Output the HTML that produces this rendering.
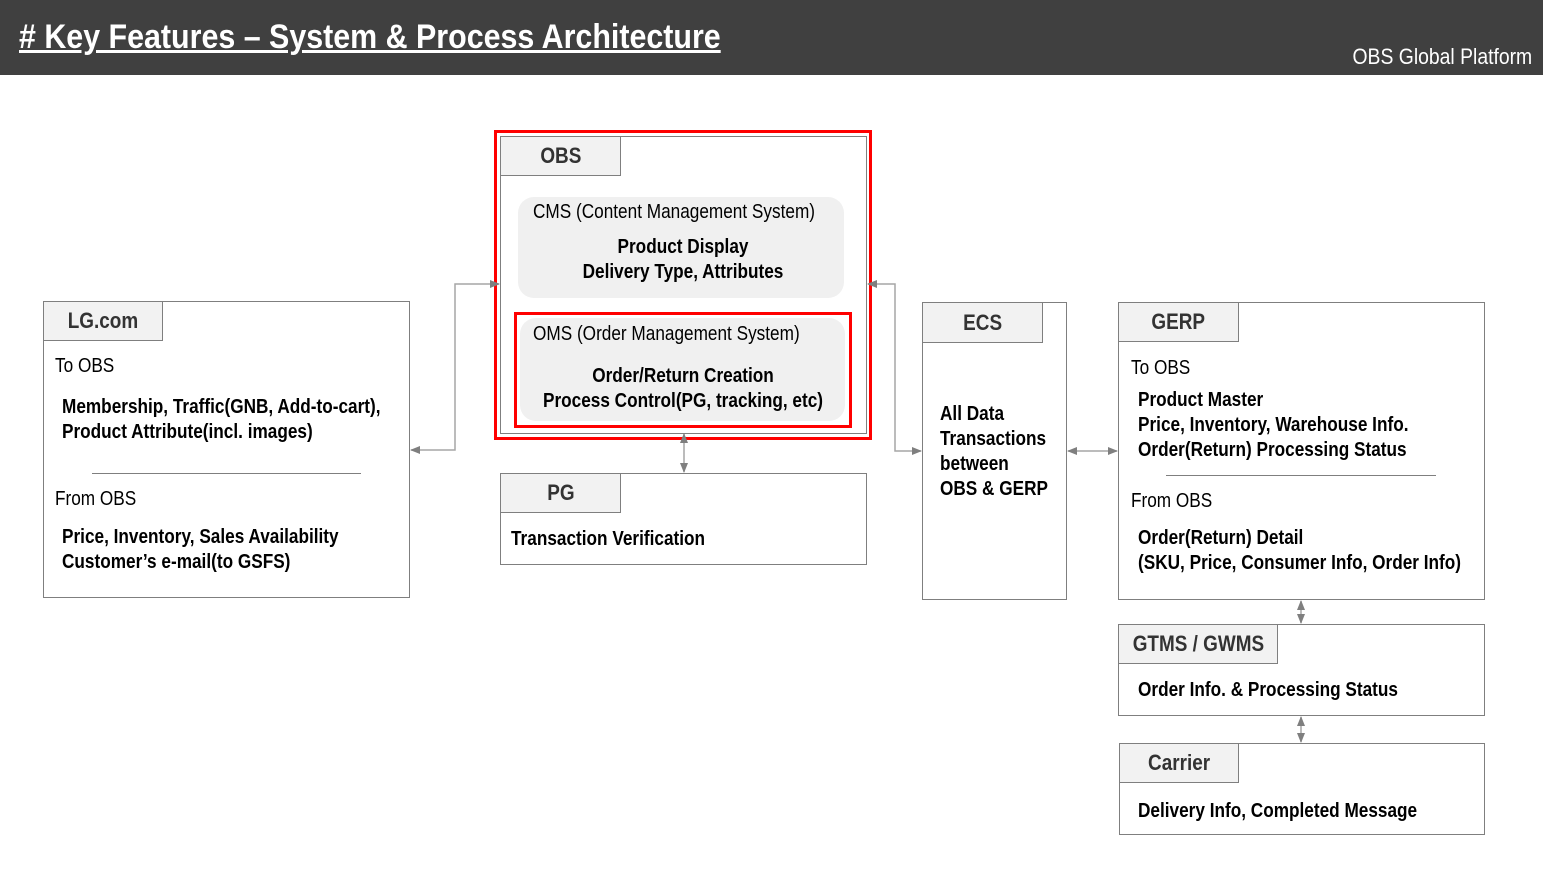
<!DOCTYPE html>
<html><head><meta charset="utf-8"><style>
*{margin:0;padding:0;box-sizing:border-box}
body{width:1543px;height:869px;background:#fff;position:relative;overflow:hidden;font-family:"Liberation Sans Narrow","Liberation Sans",sans-serif;color:#000}
.a{position:absolute}
.box{position:absolute;border:1px solid #7f7f7f;background:#fff}
.tab{position:absolute;border:1px solid #7f7f7f;background:#f2f2f2;font-weight:bold;font-size:22px;color:#333;text-align:center}
.tab span{display:inline-block;transform:scaleX(0.86)}
.t{position:absolute;font-size:20px;white-space:nowrap;line-height:25px;transform:scaleX(0.86);transform-origin:0 0}
.b{font-weight:bold}
.c{text-align:center;transform-origin:50% 0}
</style></head><body>
<div class="a" style="left:0;top:0;width:1543px;height:75px;background:#404040"></div>
<div class="a" style="left:19px;top:18px;color:#fff;font-weight:bold;font-size:34px;text-decoration:underline;white-space:nowrap;transform:scaleX(0.894);transform-origin:0 0">#&nbsp;Key Features – System &amp; Process Architecture</div>
<div class="a" style="right:11px;top:44px;color:#fff;font-size:22px;white-space:nowrap;transform:scaleX(0.88);transform-origin:100% 0">OBS Global Platform</div>

<!-- OBS -->
<div class="a" style="left:494px;top:130px;width:378px;height:310px;border:3px solid #f00"></div>
<div class="box" style="left:500px;top:136px;width:367px;height:298px"></div>
<div class="tab" style="left:500px;top:136px;width:121px;height:40px;line-height:38px"><span>OBS</span></div>
<div class="a" style="left:518px;top:197px;width:326px;height:101px;background:#f0f0f0;border-radius:16px"></div>
<div class="t" style="left:533px;top:200px">CMS (Content Management System)</div>
<div class="t b c" style="left:518px;width:330px;top:235px">Product Display<br>Delivery Type, Attributes</div>
<div class="a" style="left:514px;top:312px;width:338px;height:116px;border:3px solid #f00"></div>
<div class="a" style="left:520px;top:318px;width:325px;height:103px;background:#f0f0f0;border-radius:16px"></div>
<div class="t" style="left:533px;top:322px">OMS (Order Management System)</div>
<div class="t b c" style="left:518px;width:330px;top:364px">Order/Return Creation<br>Process Control(PG, tracking, etc)</div>

<!-- LG -->
<div class="box" style="left:43px;top:301px;width:367px;height:297px"></div>
<div class="tab" style="left:43px;top:301px;width:120px;height:40px;line-height:38px"><span>LG.com</span></div>
<div class="t" style="left:55px;top:354px">To OBS</div>
<div class="t b" style="left:62px;top:395px">Membership, Traffic(GNB, Add-to-cart),<br>Product Attribute(incl. images)</div>
<div class="a" style="left:92px;top:473px;width:269px;height:1px;background:#7f7f7f"></div>
<div class="t" style="left:55px;top:487px">From OBS</div>
<div class="t b" style="left:62px;top:525px">Price, Inventory, Sales Availability<br>Customer’s e-mail(to GSFS)</div>

<!-- PG -->
<div class="box" style="left:500px;top:473px;width:367px;height:92px"></div>
<div class="tab" style="left:500px;top:473px;width:121px;height:40px;line-height:38px"><span>PG</span></div>
<div class="t b" style="left:511px;top:527px">Transaction Verification</div>

<!-- ECS -->
<div class="box" style="left:922px;top:302px;width:145px;height:298px"></div>
<div class="tab" style="left:922px;top:302px;width:121px;height:41px;line-height:40px"><span>ECS</span></div>
<div class="t b" style="left:940px;top:402px">All Data<br>Transactions<br>between<br>OBS &amp; GERP</div>

<!-- GERP -->
<div class="box" style="left:1118px;top:302px;width:367px;height:298px"></div>
<div class="tab" style="left:1118px;top:302px;width:121px;height:40px;line-height:38px"><span>GERP</span></div>
<div class="t" style="left:1131px;top:356px">To OBS</div>
<div class="t b" style="left:1138px;top:388px">Product Master<br>Price, Inventory, Warehouse Info.<br>Order(Return) Processing Status</div>
<div class="a" style="left:1166px;top:475px;width:270px;height:1px;background:#7f7f7f"></div>
<div class="t" style="left:1131px;top:489px">From OBS</div>
<div class="t b" style="left:1138px;top:526px">Order(Return) Detail<br>(SKU, Price, Consumer Info, Order Info)</div>

<!-- GTMS -->
<div class="box" style="left:1118px;top:624px;width:367px;height:92px"></div>
<div class="tab" style="left:1118px;top:624px;width:160px;height:40px;line-height:38px"><span>GTMS / GWMS</span></div>
<div class="t b" style="left:1138px;top:678px">Order Info. &amp; Processing Status</div>

<!-- Carrier -->
<div class="box" style="left:1119px;top:743px;width:366px;height:92px"></div>
<div class="tab" style="left:1119px;top:743px;width:120px;height:40px;line-height:38px"><span>Carrier</span></div>
<div class="t b" style="left:1138px;top:799px">Delivery Info, Completed Message</div>

<svg class="a" style="left:0;top:0" width="1543" height="869">
<defs><marker id="m" markerWidth="10" markerHeight="10" refX="9" refY="5" orient="auto-start-reverse" markerUnits="userSpaceOnUse"><path d="M0,1L10,5L0,9Z" fill="#7f7f7f"/></marker></defs>
<g stroke="#a6a6a6" stroke-width="1.5" fill="none">
<polyline points="499,284 455,284 455,450 411,450" marker-start="url(#m)" marker-end="url(#m)"/>
<polyline points="868,284 895,284 895,451 921,451" marker-start="url(#m)" marker-end="url(#m)"/>
<line x1="1068" y1="451" x2="1117" y2="451" marker-start="url(#m)" marker-end="url(#m)"/>
<line x1="684" y1="434" x2="684" y2="472" marker-start="url(#m)" marker-end="url(#m)"/>
<line x1="1301" y1="601" x2="1301" y2="623" marker-start="url(#m)" marker-end="url(#m)"/>
<line x1="1301" y1="717" x2="1301" y2="742" marker-start="url(#m)" marker-end="url(#m)"/>
</g>
</svg>
</body></html>
